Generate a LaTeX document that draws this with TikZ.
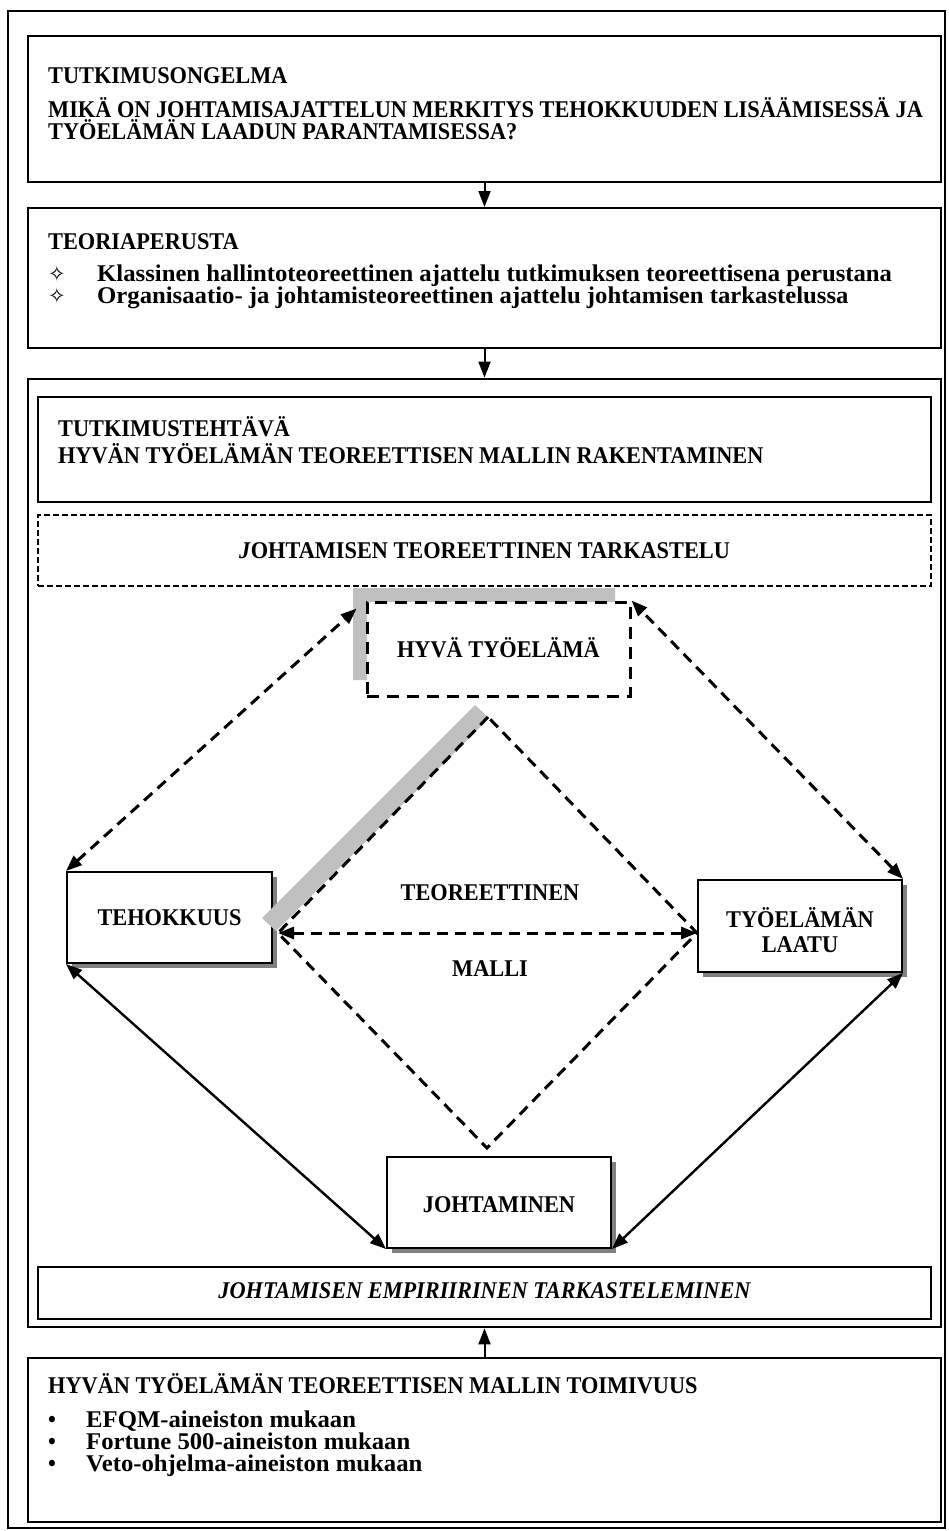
\documentclass[tikz,border=0pt]{standalone}
\usepackage{fontspec}
\setmainfont{Liberation Serif}
\newfontfamily\capsfont[FakeStretch=0.93]{Liberation Serif}
\newfontfamily\widefont[FakeStretch=1.03]{Liberation Serif}
\newfontfamily\symfont{DejaVu Sans}
\usetikzlibrary{arrows.meta,fit,shadows}

\definecolor{bargray}{HTML}{C0C0C0}
\definecolor{shadowgray}{HTML}{808080}

\tikzset{
  frame/.style={draw, line width=2pt, inner sep=0pt},
  thinframe/.style={draw, line width=1.2pt, inner sep=0pt},
  dashframe/.style={draw, line width=1.4pt, inner sep=0pt, dash pattern=on 6pt off 3pt},
  dashbox/.style={draw, line width=3pt, inner sep=0pt, dash pattern=on 12pt off 8pt},
  conceptbox/.style={draw, fill=white, line width=2pt, inner sep=0pt,
    drop shadow={shadow xshift=5pt, shadow yshift=-5pt, opacity=1, fill=shadowgray}},
  tx/.style={inner sep=0pt, font=\capsfont\bfseries\fontsize{24}{26}\selectfont},
  txw/.style={inner sep=0pt, font=\widefont\bfseries\fontsize{24}{26}\selectfont},
  txi/.style={inner sep=0pt, font=\capsfont\bfseries\itshape\fontsize{24}{26}\selectfont},
  star/.style={inner sep=0pt, font=\symfont\fontsize{21}{21}\selectfont},
  tip/.style={-{Triangle[length=16pt,width=12pt]}},
  dtip/.style={{Triangle[length=16pt,width=12pt]}-{Triangle[length=16pt,width=12pt]}},
  flowarrow/.style={tip, line width=2pt},
  linkdash/.style={dtip, line width=3pt, dash pattern=on 11pt off 7pt},
  linksolid/.style={dtip, line width=2.4pt},
  modeledge/.style={line width=3pt, dash pattern=on 11pt off 7pt},
}

\begin{document}
\begin{tikzpicture}[x=1pt,y=-1pt]
\useasboundingbox (0,0) rectangle (948,1531);
\fill[white] (0,0) rectangle (948,1531);

% outer frame
\node[frame, fit={(8,11) (945,1528)}] (outer) {};

% research problem
\node[frame, fit={(28,36) (941,182)}] (problem) {};
\node[tx, anchor=base west] (problemA) at (48,83) {TUTKIMUSONGELMA};
\node[tx, anchor=base west] (problemB) at (48,117) {MIKÄ ON JOHTAMISAJATTELUN MERKITYS TEHOKKUUDEN LISÄÄMISESSÄ JA};
\node[tx, anchor=base west] (problemC) at (48,139) {TYÖELÄMÄN LAADUN PARANTAMISESSA?};

% theoretical basis
\node[frame, fit={(28,208) (941,348)}] (theory) {};
\node[tx, anchor=base west] (theoryA) at (48,249) {TEORIAPERUSTA};
\node[star, anchor=base] (starA) at (57,281.5) {✧};
\node[txw, anchor=base west] (theoryB) at (97,281.5) {Klassinen hallintoteoreettinen ajattelu tutkimuksen teoreettisena perustana};
\node[star, anchor=base] (starB) at (57,303) {✧};
\node[txw, anchor=base west] (theoryC) at (97,303) {Organisaatio- ja johtamisteoreettinen ajattelu johtamisen tarkastelussa};

% research task container
\node[draw, line width=2.8pt, inner sep=0pt, fit={(28,379) (941,1327)}] (task) {};
\node[frame, fit={(38,397) (931,502)}] (taskbox) {};
\node[tx, anchor=base west] (taskA) at (58,436) {TUTKIMUSTEHTÄVÄ};
\node[tx, anchor=base west] (taskB) at (58,463) {HYVÄN TYÖELÄMÄN TEOREETTISEN MALLIN RAKENTAMINEN};

\node[dashframe, fit={(38,515) (931,586)}] (theorylens) {};
\node[tx, anchor=base] (theorylensT) at (484.5,558) {\textit{J}OHTAMISEN TEOREETTINEN TARKASTELU};

% gray highlight round the good working life box
\fill[bargray] (353,588) -- (615,588) -- (615,602) -- (367,602) -- (367,680) -- (353,680) -- cycle;
\node[dashbox, fit={(367,602) (630,696)}] (good) {};
\node[tx, anchor=base] (goodT) at (498.5,657) {HYVÄ TYÖELÄMÄ};

% concept boxes
\node[conceptbox, fit={(67,872) (272,963)}] (eff) {};
\node[tx] (effT) at (169.5,918) {TEHOKKUUS};
\node[conceptbox, fit={(698,880) (902,972)}] (qual) {};
\node[tx, anchor=base] (qualA) at (800,927) {TYÖELÄMÄN};
\node[tx, anchor=base] (qualB) at (800,952) {LAATU};
\node[conceptbox, fit={(387,1157) (611,1248)}] (lead) {};
\node[tx] (leadT) at (499,1205) {JOHTAMINEN};

% theoretical model diamond
\coordinate (dT) at (488,717);
\coordinate (dL) at (278,933);
\coordinate (dR) at (697,933);
\coordinate (dB) at (487,1148);
\fill[bargray] (489,718) -- (475,705) -- (262,918) -- (276,931) -- cycle;
\draw[modeledge] (dT) -- (dL) -- (dB) -- (dR) -- cycle;
\draw[linkdash] (dL) -- (dR);
\node[tx, anchor=base] (modelA) at (490,900) {TEOREETTINEN};
\node[tx, anchor=base] (modelB) at (490,976) {MALLI};

% links between the concepts
\draw[linkdash, shorten >=12pt] (eff.north west) -- (good.north west);
\draw[linkdash] (qual.north east) -- (good.north east);
\draw[linksolid] (eff.south west) -- (lead.south west);
\draw[linksolid] (qual.south east) -- (lead.south east);

% empirical examination
\node[thinframe, fit={(38,1267) (931,1319)}] (empiric) {};
\node[txi, anchor=base] (empiricT) at (484.5,1298) {JOHTAMISEN EMPIRIIRINEN TARKASTELEMINEN};

% validity of the model
\node[thinframe, fit={(28,1358) (941,1522)}] (validity) {};
\node[tx, anchor=base west] (validityA) at (48,1393) {HYVÄN TYÖELÄMÄN TEOREETTISEN MALLIN TOIMIVUUS};
\node[tx, anchor=base] (dotA) at (52,1427) {\textbullet};
\node[txw, anchor=base west] (validityB) at (86,1427) {EFQM-aineiston mukaan};
\node[tx, anchor=base] (dotB) at (52,1449) {\textbullet};
\node[txw, anchor=base west] (validityC) at (86,1449) {Fortune 500-aineiston mukaan};
\node[tx, anchor=base] (dotC) at (52,1471) {\textbullet};
\node[txw, anchor=base west] (validityD) at (86,1471) {Veto-ohjelma-aineiston mukaan};

% flow arrows
\draw[flowarrow] (problem.south) -- (theory.north);
\draw[flowarrow] (theory.south) -- (task.north);
\draw[flowarrow] (validity.north) -- (task.south);
\end{tikzpicture}
\end{document}
